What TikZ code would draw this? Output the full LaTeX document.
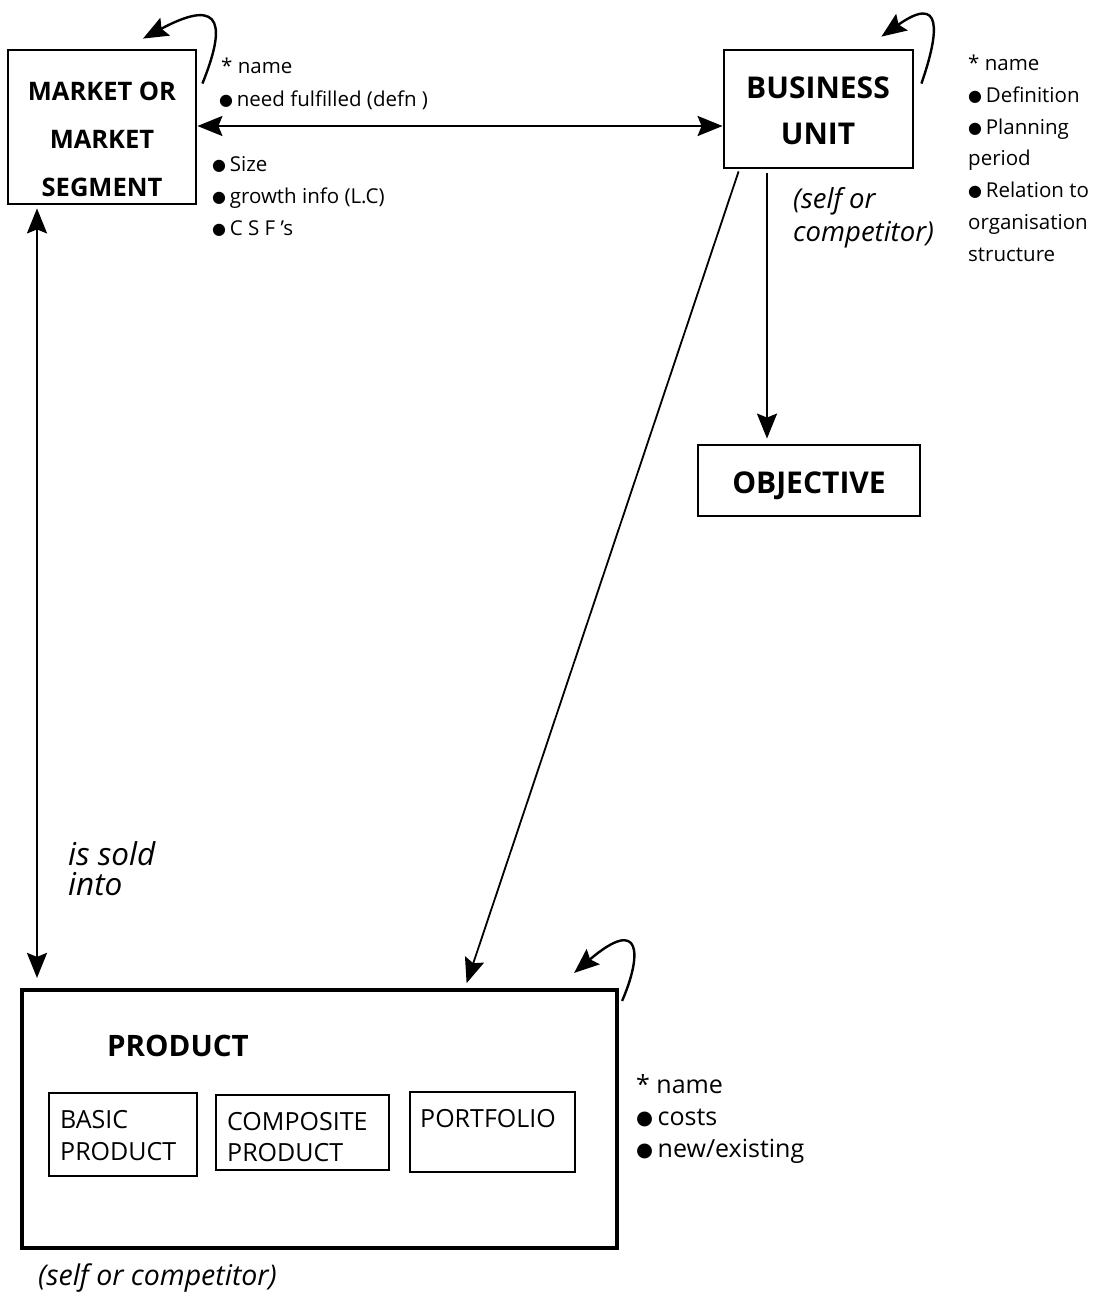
\documentclass[tikz,border=0pt]{standalone}
\usepackage{fontspec}
\setmainfont{Open Sans}
\newfontfamily\symfont{DejaVu Sans}
\usetikzlibrary{arrows.meta,calc}
\newcommand{\bul}{\raisebox{0.04em}{\scalebox{0.78}{\symfont ●}}\hspace{0.18em}}
\tikzset{
  box/.style={draw, line width=2.8pt, rectangle, inner sep=0pt},
  bigbox/.style={draw, line width=4.2pt, rectangle, inner sep=0pt},
  subbox/.style={draw, line width=2.2pt, rectangle, inner sep=0pt},
  title/.style={anchor=base, font=\bfseries\fontsize{25.5}{25.5}\selectfont, inner sep=0pt},
  note/.style={anchor=base west, font=\fontsize{20.5}{20.5}\selectfont, inner sep=0pt},
  pnote/.style={anchor=base west, font=\fontsize{25}{25}\selectfont, inner sep=0pt},
  subtext/.style={anchor=base west, font=\fontsize{25}{25}\selectfont, inner sep=0pt},
  role/.style={anchor=base west, font=\itshape\fontsize{27.5}{27.5}\selectfont, inner sep=0pt},
  head/.tip={Stealth[length=25pt,width=20pt,inset=4pt]},
  link/.style={line width=2.4pt, -head},
  dlink/.style={line width=2.4pt, head-head},
  loop/.style={line width=2.4pt, -head},
}
\begin{document}
\begin{tikzpicture}[x=1pt,y=-1pt]
\useasboundingbox (0,0) rectangle (1096,1293);

% main entity boxes
\node[box, minimum width=188pt, minimum height=154pt] (mkt) at (102,127) {};
\node[box, minimum width=189pt, minimum height=118pt] (bu) at (818.5,109) {};
\node[box, minimum width=222pt, minimum height=71pt] (obj) at (809,480.5) {};
\node[bigbox, minimum width=595pt, minimum height=258pt] (prod) at (319.5,1119) {};

% box titles
\node[title] (mkt1) at (102,100) {MARKET OR};
\node[title] (mkt2) at (102,148) {MARKET};
\node[title] (mkt3) at (102,196) {SEGMENT};
\node[title, font=\bfseries\fontsize{30}{30}\selectfont] (bu1) at (818,98) {BUSINESS};
\node[title, font=\bfseries\fontsize{30}{30}\selectfont] (bu2) at (818,144) {UNIT};
\node[title, font=\bfseries\fontsize{30}{30}\selectfont] (obj1) at (809,493) {OBJECTIVE};
\node[title, anchor=base west, font=\bfseries\fontsize{29.5}{29.5}\selectfont] (prod1) at (107,1056) {PRODUCT};

% product sub-types
\node[subbox, minimum width=148pt, minimum height=83pt] (basic) at (123,1134.5) {};
\node[subbox, minimum width=173pt, minimum height=75pt] (comp) at (302.5,1132.5) {};
\node[subbox, minimum width=165pt, minimum height=80pt] (port) at (492.5,1132) {};
\node[subtext] (basic1) at (60,1128) {BASIC};
\node[subtext] (basic2) at (60,1160) {PRODUCT};
\node[subtext] (comp1) at (227,1130) {COMPOSITE};
\node[subtext] (comp2) at (227,1161) {PRODUCT};
\node[subtext] (port1) at (420,1127) {PORTFOLIO};

% attribute lists
\node[note] (ma1) at (221,73) {* name};
\node[note] (ma2) at (219,106) {\bul need fulfilled (defn )};
\node[note] (ma3) at (212,171) {\bul Size};
\node[note] (ma4) at (212,203) {\bul growth info (L.C)};
\node[note] (ma5) at (212,235) {\bul C S F 's};

\node[note] (ba1) at (968,70) {* name};
\node[note] (ba2) at (968,102) {\bul Definition};
\node[note] (ba3) at (968,134) {\bul Planning};
\node[note] (ba4) at (968,165) {period};
\node[note] (ba5) at (968,197) {\bul Relation to};
\node[note] (ba6) at (968,229) {organisation};
\node[note] (ba7) at (968,261) {structure};

\node[pnote] (pa1) at (636,1093) {* name};
\node[pnote] (pa2) at (636,1125) {\bul costs};
\node[pnote] (pa3) at (636,1157) {\bul new/existing};

% role labels
\node[role] (bur1) at (793,208) {(self or};
\node[role] (bur2) at (793,241) {competitor)};
\node[role, font=\itshape\fontsize{31.5}{31.5}\selectfont] (sold1) at (68,865) {is sold};
\node[role, font=\itshape\fontsize{31.5}{31.5}\selectfont] (sold2) at (68,895) {into};
\node[role, font=\itshape\fontsize{28.5}{28.5}\selectfont] (prodr) at (38,1285) {(self or competitor)};

% relationships
\draw[dlink] (mkt.east |- 0,126) -- (bu.west |- 0,126);
\draw[dlink, shorten <=3pt, shorten >=10pt] (mkt.south -| 37,0) -- (prod.north -| 37,0);
\draw[link, shorten <=4pt, shorten >=5pt] (bu.south -| 767,0) -- (obj.north -| 767,0);
\coordinate (dstart) at ($(bu.south west)+(16,2)$);
\draw[link, line width=1.8pt, shorten >=5pt] (dstart) -- (prod.north -| 465,0);

% recursive relationships
\coordinate (ml) at ($(mkt.north east)+(5,35)$);
\coordinate (mt) at ($(mkt.north)+(41,-10)$);
\draw[loop] (ml) .. controls (224,30) and (226,-6) .. (mt);
\coordinate (bl) at ($(bu.north east)+(7,35)$);
\coordinate (bt) at ($(bu.north east)+(-33,-12)$);
\draw[loop] (bl) .. controls (940,30) and (942,-6) .. (bt);
\coordinate (pl) at ($(prod.north east)+(3,13)$);
\coordinate (pt) at ($(prod.north east)+(-45,-15)$);
\draw[loop] (pl) .. controls (642,955) and (642,915) .. (pt);
\end{tikzpicture}
\end{document}
